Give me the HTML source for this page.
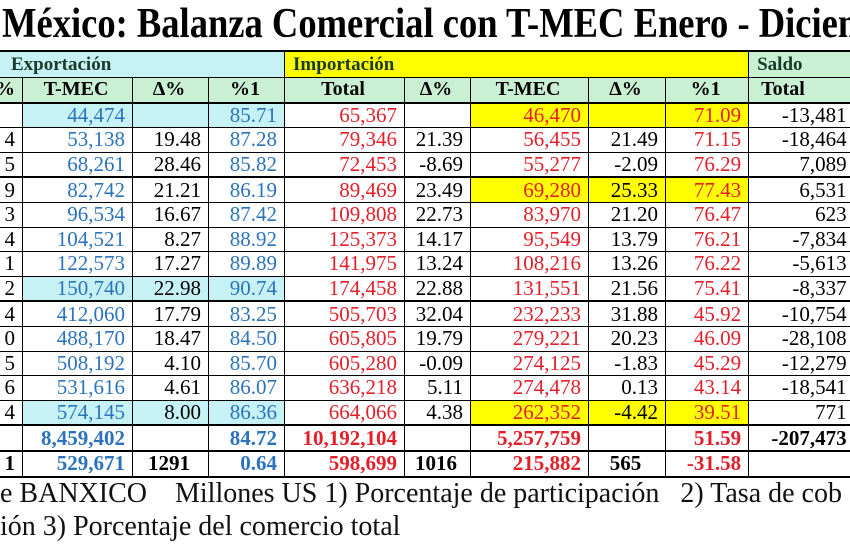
<!DOCTYPE html>
<html><head><meta charset="utf-8"><style>
html,body{margin:0;padding:0;width:850px;height:550px;overflow:hidden;background:#fff;font-family:"Liberation Serif",serif;}
#title{position:absolute;left:2px;top:0;height:48px;line-height:48px;font-size:42px;font-weight:bold;white-space:nowrap;color:#000;transform:scaleX(0.87);transform-origin:0 0;}
#wrap{position:absolute;left:0;top:0;width:850px;height:550px;overflow:hidden;}
table{position:absolute;left:-58px;top:50px;width:916px;border-collapse:collapse;table-layout:fixed;}
td{border:1px solid #000;height:23.6px;padding:0 7px 0 4px;text-align:right;font-size:21px;line-height:23px;white-space:nowrap;overflow:hidden;}
tr.h1 td{height:25px;text-align:left;font-weight:bold;font-size:19px;color:#1a3a2a;padding-left:8px;border-top:2px solid #000}
tr.h2 td{font-weight:bold;font-size:20px;text-align:center;background:#c9f0d2;border-bottom:2px solid #000}
tr.g td{border-top:2px solid #000}
tr.b td{font-weight:bold;border-bottom:2px solid #000}
td.s{padding-right:12px;border-right:none}
.b1{color:#2b73bd}.r{color:#e3202a}
.cy{background:#c6f2f6}.ye{background:#ffff00}.gr{background:#c9f0d2}
td.c{text-align:center}
.foot{position:absolute;left:0;font-size:28px;white-space:pre;color:#111}
</style></head><body>
<div id="wrap">
<div id="title">México: Balanza Comercial con T-MEC Enero - Diciembre</div>
<table>
<colgroup><col style="width:80px"><col style="width:110px"><col style="width:76px"><col style="width:76px"><col style="width:120px"><col style="width:66px"><col style="width:118px"><col style="width:77px"><col style="width:83px"><col style="width:110px"></colgroup>
<tr class="h1"><td class="cy" colspan="4" style="padding-left:68px">Exportación</td><td class="ye" colspan="5">Importación</td><td class="gr s">Saldo</td></tr>
<tr class="h2"><td style="text-align:right">%</td><td>T-MEC</td><td>Δ%</td><td>%1</td><td>Total</td><td>Δ%</td><td class="ye">T-MEC</td><td class="ye">Δ%</td><td class="ye">%1</td><td class="s" style="text-align:left;padding-left:12px">Total</td></tr>
<tr><td></td><td class="b1 cy">44,474</td><td class="cy"></td><td class="b1 cy">85.71</td><td class="r">65,367</td><td></td><td class="r ye">46,470</td><td class="ye"></td><td class="r ye">71.09</td><td class="s">-13,481</td></tr>
<tr><td>4</td><td class="b1">53,138</td><td>19.48</td><td class="b1">87.28</td><td class="r">79,346</td><td>21.39</td><td class="r">56,455</td><td>21.49</td><td class="r">71.15</td><td class="s">-18,464</td></tr>
<tr><td>5</td><td class="b1">68,261</td><td>28.46</td><td class="b1">85.82</td><td class="r">72,453</td><td>-8.69</td><td class="r">55,277</td><td>-2.09</td><td class="r">76.29</td><td class="s">7,089</td></tr>
<tr class="g"><td>9</td><td class="b1">82,742</td><td>21.21</td><td class="b1">86.19</td><td class="r">89,469</td><td>23.49</td><td class="r ye">69,280</td><td class="ye">25.33</td><td class="r ye">77.43</td><td class="s">6,531</td></tr>
<tr><td>3</td><td class="b1">96,534</td><td>16.67</td><td class="b1">87.42</td><td class="r">109,808</td><td>22.73</td><td class="r">83,970</td><td>21.20</td><td class="r">76.47</td><td class="s">623</td></tr>
<tr><td>4</td><td class="b1">104,521</td><td>8.27</td><td class="b1">88.92</td><td class="r">125,373</td><td>14.17</td><td class="r">95,549</td><td>13.79</td><td class="r">76.21</td><td class="s">-7,834</td></tr>
<tr><td>1</td><td class="b1">122,573</td><td>17.27</td><td class="b1">89.89</td><td class="r">141,975</td><td>13.24</td><td class="r">108,216</td><td>13.26</td><td class="r">76.22</td><td class="s">-5,613</td></tr>
<tr><td>2</td><td class="b1 cy">150,740</td><td class="cy">22.98</td><td class="b1 cy">90.74</td><td class="r">174,458</td><td>22.88</td><td class="r">131,551</td><td>21.56</td><td class="r">75.41</td><td class="s">-8,337</td></tr>
<tr class="g"><td>4</td><td class="b1">412,060</td><td>17.79</td><td class="b1">83.25</td><td class="r">505,703</td><td>32.04</td><td class="r">232,233</td><td>31.88</td><td class="r">45.92</td><td class="s">-10,754</td></tr>
<tr><td>0</td><td class="b1">488,170</td><td>18.47</td><td class="b1">84.50</td><td class="r">605,805</td><td>19.79</td><td class="r">279,221</td><td>20.23</td><td class="r">46.09</td><td class="s">-28,108</td></tr>
<tr><td>5</td><td class="b1">508,192</td><td>4.10</td><td class="b1">85.70</td><td class="r">605,280</td><td>-0.09</td><td class="r">274,125</td><td>-1.83</td><td class="r">45.29</td><td class="s">-12,279</td></tr>
<tr><td>6</td><td class="b1">531,616</td><td>4.61</td><td class="b1">86.07</td><td class="r">636,218</td><td>5.11</td><td class="r">274,478</td><td>0.13</td><td class="r">43.14</td><td class="s">-18,541</td></tr>
<tr><td>4</td><td class="b1 cy">574,145</td><td class="cy">8.00</td><td class="b1 cy">86.36</td><td class="r">664,066</td><td>4.38</td><td class="r ye">262,352</td><td class="ye">-4.42</td><td class="r ye">39.51</td><td class="s">771</td></tr>
<tr class="g b"><td></td><td class="b1">8,459,402</td><td></td><td class="b1">84.72</td><td class="r">10,192,104</td><td></td><td class="r">5,257,759</td><td></td><td class="r">51.59</td><td class="s">-207,473</td></tr>
<tr class="b"><td>1</td><td class="b1">529,671</td><td class="c">1291</td><td class="b1">0.64</td><td class="r">598,699</td><td class="c">1016</td><td class="r">215,882</td><td class="c">565</td><td class="r">-31.58</td><td class="s"></td></tr>
</table>
<div class="foot" style="top:478px">e BANXICO    Millones US 1) Porcentaje de participación   2) Tasa de cob</div>
<div class="foot" style="top:511px">ión 3) Porcentaje del comercio total</div>
</div>
</body></html>
